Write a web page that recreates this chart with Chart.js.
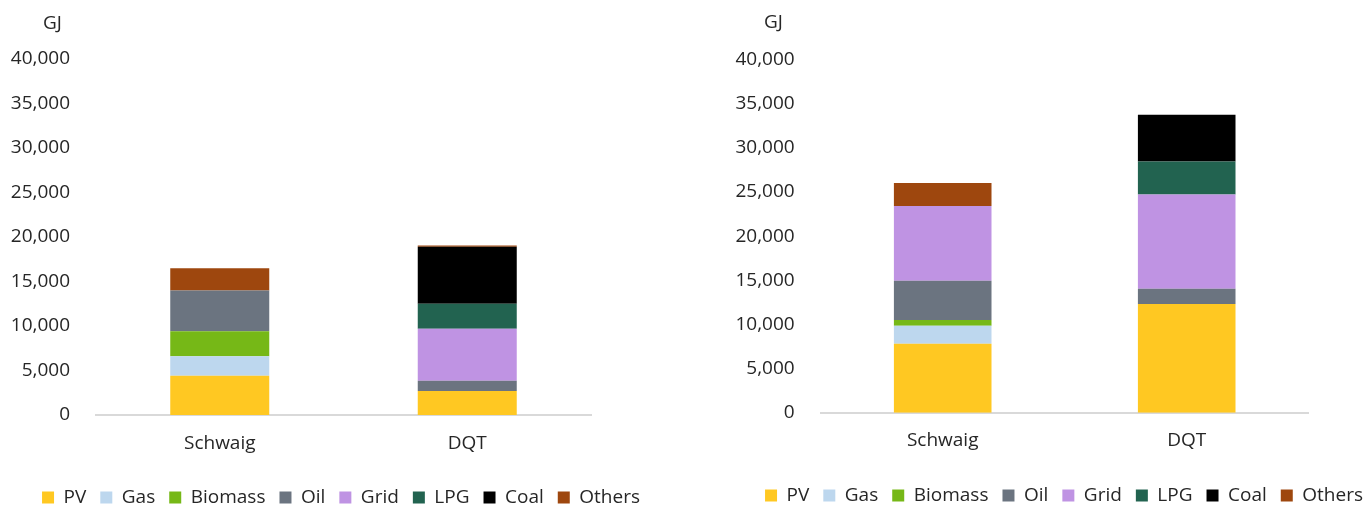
<!DOCTYPE html>
<html>
<head>
<meta charset="utf-8">
<script src="https://cdn.jsdelivr.net/npm/chart.js@4.4.1/dist/chart.umd.min.js"></script>
<style>
  html, body { margin: 0; padding: 0; background: #fff; overflow: hidden; width: 1364px; height: 505px; }
  .wrap { position: absolute; top: 0; width: 682px; height: 505px; }
</style>
</head>
<body>
<div class="wrap" style="left:0"><canvas id="chart-left" width="682" height="505"></canvas></div>
<div class="wrap" style="left:723px"><canvas id="chart-right" width="682" height="505"></canvas></div>
<script>
const CATEGORIES = ['Schwaig', 'DQT'];
const SERIES = ['PV', 'Gas', 'Biomass', 'Oil', 'Grid', 'LPG', 'Coal', 'Others'];
const COLORS = ['#FFC822', '#BDD7EE', '#76B817', '#6B7480', '#BF93E3', '#226350', '#000000', '#9E470E'];
const Y_TICKS = [0, 5000, 10000, 15000, 20000, 25000, 30000, 35000, 40000];
const UNIT = 'GJ';

// left chart (GJ)
const PV_L      = [4400, 2700];
const GAS_L     = [2200, 0];
const BIOMASS_L = [2800, 0];
const OIL_L     = [4600, 1150];
const GRID_L    = [0, 5850];
const LPG_L     = [0, 2800];
const COAL_L    = [0, 6400];
const OTHERS_L  = [2500, 150];

// right chart (GJ)
const PV_R      = [7800, 12300];
const GAS_R     = [2050, 0];
const BIOMASS_R = [650, 0];
const OIL_R     = [4450, 1750];
const GRID_R    = [8450, 10650];
const LPG_R     = [0, 3750];
const COAL_R    = [0, 5300];
const OTHERS_R  = [2600, 0];

const FONT = { family: "'Open Sans', 'DejaVu Sans', sans-serif", size: 19 };
const TEXT = '#262626';

/* draws the unit label above the y axis */
const unitPlugin = {
  id: 'unitLabel',
  afterDraw(chart, args, opts) {
    const { ctx, chartArea } = chart;
    ctx.save();
    ctx.font = `${FONT.size}px ${FONT.family}`;
    ctx.fillStyle = TEXT;
    ctx.textAlign = 'center';
    ctx.textBaseline = 'middle';
    ctx.fillText(opts.text, chartArea.left - opts.dx, chartArea.top - opts.dy);
    ctx.restore();
  }
};

function makeChart(id, values, o) {
  const datasets = SERIES.map((name, i) => ({
    label: name,
    data: values[i],
    backgroundColor: COLORS[i],
    borderWidth: 0,
    barPercentage: 0.4,
    categoryPercentage: 1,
    yAxisID: 'y'
  }));

  return new Chart(document.getElementById(id), {
    type: 'bar',
    data: { labels: CATEGORIES, datasets },
    options: {
      responsive: false,
      animation: false,
      layout: { padding: { top: o.top, bottom: o.padBottom, left: 0, right: 0 } },
      plugins: {
        legend: {
          position: 'bottom',
          labels: { boxWidth: 12, boxHeight: 12, padding: 14, color: TEXT, font: FONT }
        },
        tooltip: { enabled: false },
        unitLabel: { text: UNIT, dx: o.unitDx, dy: o.unitDy }
      },
      scales: {
        x: {
          stacked: true,
          grid: { display: false, drawTicks: false },
          border: { display: true, color: '#D9D9D9', width: 2 },
          ticks: { color: TEXT, font: FONT, padding: o.xPad },
          afterFit(s) {
            s.height = (s.chart.height - o.padBottom) - s.chart.legend.height - o.bottom;
          }
        },
        y: {
          stacked: true,
          min: 0,
          max: 40000,
          grid: { display: false, drawTicks: false },
          border: { display: false },
          ticks: {
            color: TEXT, font: FONT, padding: 26,
            callback: v => v.toLocaleString('en-US')
          },
          afterBuildTicks(axis) { axis.ticks = Y_TICKS.map(v => ({ value: v })); },
          afterFit(s) { s.width = o.left; }
        },
        yRight: {
          axis: 'y',
          type: 'linear',
          position: 'right',
          grid: { display: false },
          border: { display: false },
          ticks: { display: false },
          afterFit(s) { s.width = o.right; }
        }
      }
    },
    plugins: [unitPlugin]
  });
}

makeChart('chart-left',
  [PV_L, GAS_L, BIOMASS_L, OIL_L, GRID_L, LPG_L, COAL_L, OTHERS_L],
  { top: 59, bottom: 415, left: 96, right: 91, padBottom: -12, xPad: 17, unitDx: 43.5, unitDy: 35 });

makeChart('chart-right',
  [PV_R, GAS_R, BIOMASS_R, OIL_R, GRID_R, LPG_R, COAL_R, OTHERS_R],
  { top: 59.5, bottom: 412.7, left: 97.7, right: 96.3, padBottom: -10, xPad: 16, unitDx: 47.2, unitDy: 37 });
</script>
</body>
</html>
